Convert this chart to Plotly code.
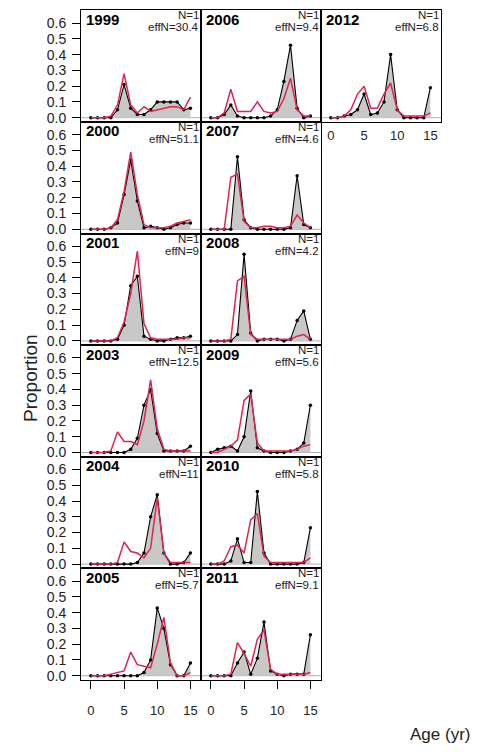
import plotly.graph_objects as go

ages = list(range(16))

years = ["1999", "2000", "2001", "2003", "2004", "2005",
         "2006", "2007", "2008", "2009", "2010", "2011", "2012"]
effN = ["30.4", "51.1", "9", "12.5", "11", "5.7",
        "9.4", "4.6", "4.2", "5.6", "5.8", "9.1", "6.8"]

obs_1999 = [0, 0, 0, 0.0, 0.05, 0.21, 0.06, 0.02, 0.02, 0.05, 0.10, 0.10, 0.10, 0.10, 0.05, 0.06]
exp_1999 = [0, 0, 0, 0.01, 0.08, 0.28, 0.08, 0.03, 0.07, 0.04, 0.05, 0.06, 0.07, 0.07, 0.05, 0.13]
obs_2000 = [0, 0, 0, 0.01, 0.04, 0.22, 0.44, 0.18, 0.01, 0.02, 0.01, 0.0, 0.01, 0.03, 0.04, 0.04]
exp_2000 = [0, 0, 0, 0.01, 0.06, 0.24, 0.49, 0.22, 0.03, 0.01, 0.01, 0.01, 0.02, 0.04, 0.05, 0.06]
obs_2001 = [0, 0, 0, 0, 0.01, 0.10, 0.35, 0.41, 0.03, 0.01, 0.0, 0.0, 0.01, 0.02, 0.02, 0.03]
exp_2001 = [0, 0, 0, 0, 0.02, 0.12, 0.30, 0.57, 0.11, 0.02, 0.01, 0.01, 0.01, 0.01, 0.02, 0.02]
obs_2003 = [0, 0, 0, 0, 0, 0.0, 0.02, 0.09, 0.30, 0.40, 0.12, 0.01, 0.01, 0.01, 0.01, 0.04]
exp_2003 = [0, 0, 0, 0.01, 0.13, 0.07, 0.07, 0.05, 0.20, 0.46, 0.15, 0.02, 0.01, 0.01, 0.01, 0.01]
obs_2004 = [0, 0, 0, 0, 0, 0.0, 0.0, 0.01, 0.07, 0.30, 0.44, 0.07, 0.0, 0.0, 0.01, 0.07]
exp_2004 = [0, 0, 0, 0, 0.01, 0.14, 0.08, 0.07, 0.04, 0.10, 0.42, 0.07, 0.01, 0.01, 0.01, 0.01]
obs_2005 = [0, 0, 0, 0, 0, 0, 0, 0.0, 0.02, 0.10, 0.43, 0.30, 0.07, 0.0, 0.0, 0.08]
exp_2005 = [0, 0, 0, 0.01, 0.02, 0.03, 0.15, 0.07, 0.06, 0.05, 0.20, 0.37, 0.08, 0.0, 0.0, 0.02]
obs_2006 = [0, 0, 0.02, 0.08, 0.01, 0.0, 0.0, 0.0, 0.0, 0.01, 0.05, 0.23, 0.46, 0.06, 0.0, 0.01]
exp_2006 = [0, 0, 0.03, 0.18, 0.04, 0.04, 0.04, 0.10, 0.04, 0.03, 0.04, 0.12, 0.25, 0.05, 0.01, 0.01]
obs_2007 = [0, 0, 0, 0.0, 0.46, 0.06, 0.01, 0.0, 0.0, 0.0, 0.0, 0.0, 0.01, 0.34, 0.03, 0.01]
exp_2007 = [0, 0, 0, 0.33, 0.35, 0.05, 0.01, 0.01, 0.02, 0.02, 0.01, 0.01, 0.02, 0.09, 0.04, 0.01]
obs_2008 = [0, 0, 0, 0, 0.04, 0.55, 0.05, 0.0, 0.01, 0.01, 0.01, 0.0, 0.01, 0.13, 0.19, 0.01]
exp_2008 = [0, 0, 0, 0.01, 0.38, 0.41, 0.04, 0.01, 0.01, 0.01, 0.01, 0.01, 0.01, 0.03, 0.04, 0.01]
obs_2009 = [0, 0.02, 0.03, 0.04, 0.01, 0.10, 0.39, 0.03, 0.01, 0.0, 0.0, 0.0, 0.01, 0.02, 0.06, 0.30]
exp_2009 = [0, 0.0, 0.02, 0.04, 0.08, 0.33, 0.37, 0.06, 0.01, 0.01, 0.01, 0.01, 0.01, 0.02, 0.04, 0.05]
obs_2010 = [0, 0, 0.0, 0.02, 0.16, 0.01, 0.01, 0.46, 0.07, 0.0, 0.0, 0.0, 0.0, 0.0, 0.01, 0.23]
exp_2010 = [0, 0, 0.02, 0.11, 0.12, 0.07, 0.28, 0.32, 0.05, 0.01, 0.01, 0.01, 0.01, 0.01, 0.01, 0.04]
obs_2011 = [0, 0, 0, 0.0, 0.08, 0.15, 0.01, 0.11, 0.34, 0.03, 0.01, 0.0, 0.01, 0.01, 0.01, 0.26]
exp_2011 = [0, 0, 0, 0.01, 0.21, 0.14, 0.06, 0.23, 0.29, 0.04, 0.01, 0.01, 0.01, 0.01, 0.01, 0.02]
obs_2012 = [0, 0, 0.01, 0.02, 0.05, 0.15, 0.02, 0.03, 0.10, 0.40, 0.05, 0.0, 0.0, 0.0, 0.0, 0.19]
exp_2012 = [0, 0, 0.01, 0.05, 0.15, 0.20, 0.06, 0.06, 0.15, 0.22, 0.05, 0.01, 0.01, 0.01, 0.01, 0.03]

obs = [obs_1999, obs_2000, obs_2001, obs_2003, obs_2004, obs_2005,
       obs_2006, obs_2007, obs_2008, obs_2009, obs_2010, obs_2011, obs_2012]
exp = [exp_1999, exp_2000, exp_2001, exp_2003, exp_2004, exp_2005,
       exp_2006, exp_2007, exp_2008, exp_2009, exp_2010, exp_2011, exp_2012]

# grid position (col, row) of each panel
cols = [0, 0, 0, 0, 0, 0, 1, 1, 1, 1, 1, 1, 2]
rows = [0, 1, 2, 3, 4, 5, 0, 1, 2, 3, 4, 5, 0]

W, H = 480, 752
col_left = [81, 201, 321]
col_w = 120
row_bottom0 = 122.7
row_h = 112.2

FONT = "Liberation Sans, Arial, sans-serif"
RED = "#e2224f"
GREY = "#c8c8c8"

fig = go.Figure()
annotations = []
shapes = []

for i, yr in enumerate(years):
    n = i + 1
    xs = "x" if n == 1 else f"x{n}"
    ys = "y" if n == 1 else f"y{n}"
    c, r = cols[i], rows[i]
    bottom = row_bottom0 + row_h * r
    top = bottom - row_h
    xd = [col_left[c] / W, (col_left[c] + col_w) / W]
    yd = [1 - bottom / H, 1 - top / H]

    fig.add_trace(go.Scatter(x=ages, y=obs[i], mode="lines", fill="tozeroy",
                             fillcolor=GREY, line=dict(width=0, color=GREY),
                             xaxis=xs, yaxis=ys, showlegend=False, hoverinfo="skip"))
    fig.add_trace(go.Scatter(x=ages, y=obs[i], mode="lines+markers",
                             line=dict(color="black", width=1.1),
                             marker=dict(color="black", size=3.5),
                             xaxis=xs, yaxis=ys, showlegend=False))
    fig.add_trace(go.Scatter(x=ages, y=exp[i], mode="lines",
                             line=dict(color=RED, width=1.5),
                             xaxis=xs, yaxis=ys, showlegend=False))

    show_x = (r == 5) or (c == 2)
    show_y = (c == 0)
    top_panel_axis = (c == 2)
    xkey = "xaxis" if n == 1 else f"xaxis{n}"
    ykey = "yaxis" if n == 1 else f"yaxis{n}"
    fig.update_layout(**{
        xkey: dict(domain=xd, anchor=ys, range=[-1.5, 16.6],
                   showgrid=False, zeroline=False,
                   showline=True, mirror=True, linecolor="black", linewidth=1,
                   tickmode="array", tickvals=[0, 5, 10, 15],
                   ticktext=["0", "5", "10", "15"],
                   ticks="outside" if (show_x and not top_panel_axis) else "",
                   ticklen=8,
                   tickcolor="black", showticklabels=show_x,
                   ticklabelstandoff=1 if top_panel_axis else 10,
                   tickfont=dict(family=FONT, size=13, color="#222")),
        ykey: dict(domain=yd, anchor=xs, range=[-0.0276, 0.68],
                   showgrid=False, zeroline=False,
                   showline=True, mirror=True, linecolor="black", linewidth=1,
                   tickmode="array", tickvals=[0, 0.1, 0.2, 0.3, 0.4, 0.5, 0.6],
                   ticktext=["0.0", "0.1", "0.2", "0.3", "0.4", "0.5", "0.6"],
                   ticks="outside" if show_y else "", ticklen=8,
                   tickcolor="black", showticklabels=show_y,
                   ticklabelstandoff=3,
                   tickfont=dict(family=FONT, size=14, color="#222")),
    })

    shapes.append(dict(type="line", xref=f"{xs} domain", yref=ys,
                       x0=0, x1=1, y0=0, y1=0,
                       line=dict(color="#999", width=0.8), layer="below"))

    annotations.append(dict(xref=f"{xs} domain", yref=f"{ys} domain",
                            x=0.025, y=1 - 9.0 / row_h, text=f"<b>{yr}</b>",
                            showarrow=False, xanchor="left", yanchor="middle",
                            font=dict(family=FONT, size=15, color="black")))
    annotations.append(dict(xref=f"{xs} domain", yref=f"{ys} domain",
                            x=1.0, y=1 - 5.0 / row_h, text="N=1",
                            showarrow=False, xanchor="right", yanchor="middle",
                            font=dict(family=FONT, size=11.5, color="#222")))
    annotations.append(dict(xref=f"{xs} domain", yref=f"{ys} domain",
                            x=1.0, y=1 - 17.0 / row_h, text=f"effN={effN[i]}",
                            showarrow=False, xanchor="right", yanchor="middle",
                            font=dict(family=FONT, size=11.5, color="#222")))

annotations.append(dict(xref="paper", yref="paper", x=31 / W, y=1 - 380 / H,
                        text="Proportion", textangle=-90, showarrow=False,
                        xanchor="center", yanchor="middle",
                        font=dict(family=FONT, size=19, color="#222")))
annotations.append(dict(xref="paper", yref="paper", x=440 / W, y=1 - 738 / H,
                        text="Age (yr)", showarrow=False,
                        xanchor="center", yanchor="middle",
                        font=dict(family=FONT, size=17, color="#222")))

fig.update_layout(width=W, height=H, margin=dict(l=0, r=0, t=0, b=0),
                  paper_bgcolor="white", plot_bgcolor="white",
                  annotations=annotations, shapes=shapes)

fig.write_html("out.html")
